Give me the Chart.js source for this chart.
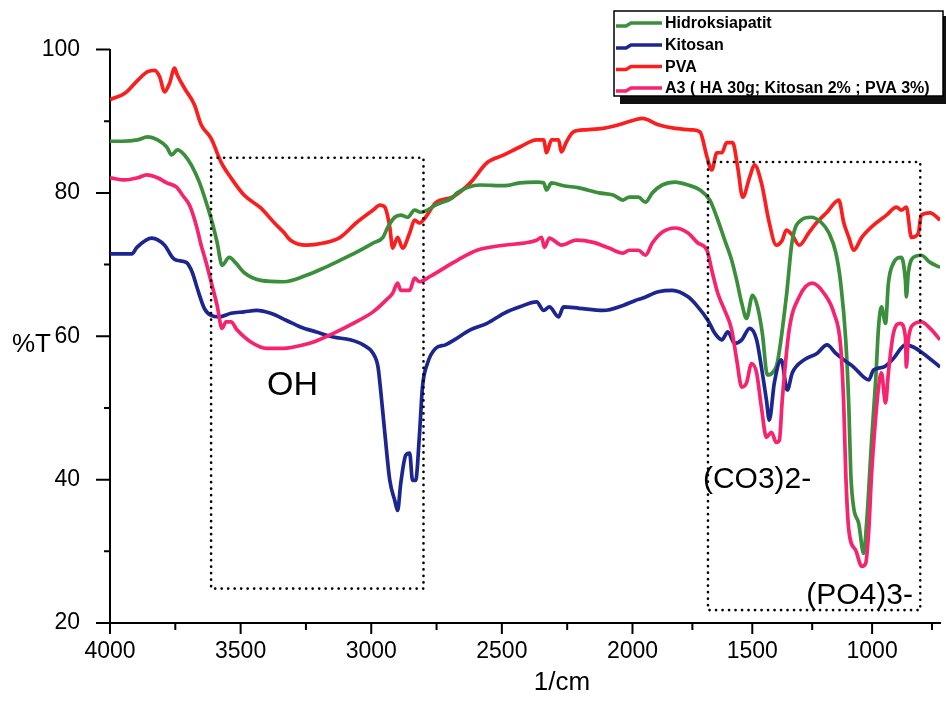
<!DOCTYPE html>
<html>
<head>
<meta charset="utf-8">
<script src="https://cdn.jsdelivr.net/npm/chart.js@4.4.1/dist/chart.umd.min.js"></script>
<style>
  html, body { margin: 0; padding: 0; background: #fff; }
</style>
</head>
<body>
<canvas id="grafica" width="947" height="717"></canvas>
<script>
// [wavenumber 1/cm, %T]
const hidroksiapatit = [[4000,87.2],[3954,87.2],[3894,87.4],[3856,87.8],[3818,87.4],[3783,86.4],[3764,85.3],[3742,86.0],[3715,85.3],[3689,83.9],[3658,81.5],[3632,78.7],[3609,75.9],[3590,73.1],[3571,69.9],[3544,71.0],[3518,70.2],[3487,68.9],[3423,67.8],[3335,67.6],[3248,68.5],[3183,69.5],[3119,70.6],[3058,71.7],[2993,73.0],[2955,73.8],[2937,75.2],[2910,76.6],[2887,76.9],[2861,76.6],[2834,77.6],[2811,77.3],[2785,77.6],[2754,78.3],[2690,79.3],[2671,80.0],[2583,81.1],[2492,81.0],[2431,81.4],[2367,81.5],[2340,81.4],[2329,80.4],[2310,81.4],[2264,81.0],[2204,80.7],[2128,80.0],[2074,79.7],[2036,79.0],[2013,79.4],[1975,79.4],[1946,78.7],[1917,80.0],[1876,81.1],[1822,81.5],[1768,81.1],[1718,80.4],[1677,79.0],[1648,76.6],[1615,73.4],[1586,70.6],[1565,67.8],[1544,64.6],[1524,62.5],[1499,65.7],[1478,64.1],[1458,60.4],[1437,54.6],[1416,54.9],[1395,56.4],[1358,65.5],[1333,73.4],[1296,76.2],[1255,76.6],[1213,75.9],[1180,74.4],[1151,71.6],[1131,67.4],[1110,59.5],[1097,50.1],[1089,40.9],[1077,36.1],[1056,33.9],[1035,29.7],[1023,33.9],[1002,45.5],[985,53.9],[973,61.3],[961,64.1],[944,61.8],[932,67.4],[911,70.2],[878,71.0],[861,67.8],[857,65.5],[849,68.8],[828,71.0],[795,71.3],[758,70.3],[716,69.6]];

const kitosan = [[4000,71.5],[3916,71.5],[3897,72.4],[3840,73.7],[3791,72.7],[3761,71.0],[3745,70.6],[3708,70.3],[3685,68.9],[3666,66.7],[3639,63.9],[3613,62.9],[3582,62.7],[3537,63.2],[3487,63.4],[3438,63.6],[3385,63.2],[3324,62.2],[3271,61.3],[3210,60.6],[3145,59.9],[3081,59.5],[3031,58.8],[2993,57.6],[2974,55.7],[2963,52.1],[2948,46.5],[2929,39.9],[2910,37.1],[2899,35.7],[2887,39.5],[2868,43.4],[2853,43.7],[2842,39.9],[2830,39.9],[2815,46.5],[2804,52.9],[2785,56.2],[2754,58.3],[2716,58.8],[2682,59.5],[2621,60.9],[2557,61.8],[2492,63.2],[2431,64.1],[2367,64.8],[2340,63.6],[2318,64.1],[2283,62.7],[2264,64.1],[2204,63.9],[2112,63.6],[2036,64.3],[1988,65.0],[1959,65.3],[1892,66.2],[1834,66.4],[1768,65.5],[1727,64.1],[1685,62.2],[1656,60.4],[1627,59.5],[1602,60.6],[1573,59.0],[1544,59.5],[1511,61.1],[1482,59.5],[1462,55.7],[1441,51.1],[1429,48.3],[1408,53.5],[1379,56.7],[1354,52.5],[1333,54.9],[1284,56.7],[1230,57.6],[1188,58.8],[1151,57.6],[1118,56.7],[1077,55.7],[1035,54.3],[1014,53.9],[994,55.3],[952,55.7],[911,56.9],[861,58.8],[828,58.5],[787,57.6],[716,55.7]];

const pva = [[4000,93.0],[3943,93.9],[3894,95.7],[3856,96.9],[3829,97.1],[3810,96.2],[3791,94.1],[3772,95.3],[3753,97.4],[3742,96.4],[3715,94.6],[3677,92.3],[3651,89.5],[3613,87.6],[3575,84.3],[3537,82.1],[3487,79.7],[3423,77.9],[3373,75.9],[3335,74.5],[3309,73.4],[3248,72.7],[3183,73.0],[3119,73.8],[3058,75.8],[2993,77.6],[2967,78.3],[2948,78.0],[2929,75.2],[2918,72.3],[2899,73.8],[2880,72.3],[2853,74.4],[2834,76.2],[2815,75.8],[2792,76.6],[2754,78.6],[2690,79.4],[2621,81.4],[2557,84.2],[2492,85.3],[2431,86.4],[2367,87.4],[2340,87.4],[2329,85.6],[2310,87.4],[2283,87.4],[2272,85.7],[2253,87.1],[2226,88.5],[2177,88.8],[2112,89.0],[2052,89.5],[1988,90.2],[1959,90.4],[1892,89.5],[1822,89.0],[1752,88.8],[1718,88.5],[1689,85.0],[1669,83.2],[1648,85.6],[1627,85.6],[1607,87.0],[1582,87.0],[1561,83.6],[1540,79.4],[1511,82.2],[1491,83.9],[1462,81.4],[1429,75.8],[1400,72.7],[1375,73.4],[1358,74.8],[1333,74.1],[1304,72.7],[1263,74.5],[1230,75.9],[1188,77.3],[1139,79.0],[1118,75.8],[1097,73.8],[1077,72.0],[1043,73.8],[994,75.5],[940,76.9],[898,78.0],[878,77.6],[857,78.0],[836,73.8],[807,74.4],[795,76.9],[758,77.2],[716,76.2]];

const a3 = [[4000,82.1],[3943,81.8],[3894,82.1],[3859,82.5],[3818,82.1],[3783,81.4],[3745,80.8],[3723,79.7],[3696,78.3],[3670,75.5],[3651,72.7],[3632,70.3],[3613,67.6],[3590,64.3],[3571,61.1],[3556,62.0],[3537,62.0],[3514,60.9],[3461,59.2],[3400,58.3],[3335,58.3],[3297,58.5],[3221,59.2],[3145,60.4],[3069,61.8],[2993,63.4],[2944,65.0],[2918,66.0],[2899,67.4],[2887,66.4],[2853,66.4],[2834,68.1],[2815,67.6],[2777,68.3],[2690,70.2],[2671,70.6],[2595,72.0],[2492,72.7],[2416,73.0],[2367,73.4],[2348,73.8],[2337,72.4],[2318,73.7],[2291,73.1],[2272,72.7],[2215,73.4],[2150,73.1],[2090,72.3],[2036,71.6],[2013,72.0],[1975,72.0],[1946,71.3],[1917,73.0],[1876,74.5],[1822,75.1],[1768,74.4],[1727,73.0],[1689,72.0],[1669,69.2],[1644,66.0],[1615,63.6],[1586,60.9],[1565,56.7],[1544,52.9],[1524,53.5],[1503,56.2],[1482,54.9],[1462,50.1],[1441,45.9],[1420,46.6],[1400,45.2],[1387,45.5],[1375,51.1],[1346,60.9],[1304,65.5],[1250,67.4],[1201,66.0],[1159,63.2],[1131,58.5],[1118,50.1],[1110,40.9],[1097,32.9],[1068,30.1],[1043,27.9],[1027,28.3],[1014,32.9],[1002,40.9],[985,48.7],[973,52.9],[961,54.9],[944,50.7],[932,54.9],[911,60.4],[882,61.8],[861,59.9],[857,55.7],[849,59.5],[820,61.8],[795,62.0],[758,61.1],[716,59.5]];

const xTickValues = [4000, 3750, 3500, 3250, 3000, 2750, 2500, 2250, 2000, 1750, 1500, 1250, 1000, 750];
const xTickLabels = ['4000', '', '3500', '', '3000', '', '2500', '', '2000', '', '1500', '', '1000', ''];
const yTickValues = [20, 30, 40, 50, 60, 70, 80, 90, 100];
const yTickLabels = ['20', '', '40', '', '60', '', '80', '', '100'];

const legendNames = ['Hidroksiapatit', 'Kitosan', 'PVA', 'A3 ( HA 30g; Kitosan 2% ; PVA 3%)'];
const colores = ['#3b8e3b', '#1c2690', '#fb1e1e', '#f7236e'];

// the original x axis is two scans glued at 2000 1/cm, each side has its own scale
const ESC_IZQ = 0.2633, ESC_DER = 0.2415;
function toAxis(wn) {
  return wn >= 2000 ? (4000 - wn) * ESC_IZQ : 2000 * ESC_IZQ + (2000 - wn) * ESC_DER;
}
const aPuntos = serie => serie.map(p => ({ x: toAxis(p[0]), y: p[1] }));

// dotted boxes and labels, in 1/cm and %T
const cajas = [
  { desde: 3613, hasta: 2800, arriba: 84.9, abajo: 24.8 },
  { desde: 1685, hasta: 799, arriba: 84.3, abajo: 21.8 }
];
const etiquetas = [
  { texto: 'OH', wn: 3301, t: 51.8, size: 34, align: 'center' },
  { texto: '(CO3)2-', wn: 1706, t: 38.8, size: 30, align: 'left' },
  { texto: '(PO4)3-', wn: 1275, t: 22.7, size: 30, align: 'left' }
];

const FUENTE = '"Liberation Sans", Arial, sans-serif';

const extras = {
  id: 'extras',
  afterDraw(chart) {
    const { ctx, scales: { x, y } } = chart;
    ctx.save();

    // tick marks, long for labelled ticks, short for the others
    ctx.strokeStyle = '#000';
    ctx.lineWidth = 2;
    ctx.beginPath();
    yTickValues.forEach((v, i) => {
      const py = y.getPixelForValue(v);
      const largo = yTickLabels[i] ? 14 : 6;
      ctx.moveTo(x.left - largo, py);
      ctx.lineTo(x.left, py);
    });
    xTickValues.forEach((v, i) => {
      const px = x.getPixelForValue(toAxis(v));
      const largo = xTickLabels[i] ? 11 : 7;
      ctx.moveTo(px, y.bottom);
      ctx.lineTo(px, y.bottom + largo);
    });
    ctx.stroke();

    // dotted boxes
    ctx.setLineDash([0.1, 6.4]);
    ctx.lineCap = 'round';
    ctx.lineWidth = 2.6;
    cajas.forEach(c => {
      const x1 = x.getPixelForValue(toAxis(c.desde));
      const x2 = x.getPixelForValue(toAxis(c.hasta));
      const y1 = y.getPixelForValue(c.arriba);
      const y2 = y.getPixelForValue(c.abajo);
      ctx.strokeRect(x1, y1, x2 - x1, y2 - y1);
    });
    ctx.setLineDash([]);
    ctx.lineCap = 'butt';

    // labels inside the plot
    ctx.fillStyle = '#000';
    ctx.textBaseline = 'alphabetic';
    etiquetas.forEach(e => {
      ctx.font = e.size + 'px ' + FUENTE;
      ctx.textAlign = e.align;
      ctx.fillText(e.texto, x.getPixelForValue(toAxis(e.wn)), y.getPixelForValue(e.t));
    });

    // axis titles
    ctx.font = '26px ' + FUENTE;
    ctx.textAlign = 'left';
    ctx.fillText('%T', 12, 352);
    ctx.textAlign = 'center';
    ctx.fillText('1/cm', 562, 690);

    // legend box with its drop shadow
    ctx.fillStyle = '#111';
    ctx.fillRect(620, 16, 326, 88);
    ctx.fillStyle = '#fff';
    ctx.fillRect(614, 11, 329, 85);
    ctx.strokeStyle = '#000';
    ctx.lineWidth = 1.5;
    ctx.strokeRect(614, 11, 329, 85);

    const filas = [23, 45, 66.5, 88];
    ctx.font = 'bold 16px ' + FUENTE;
    ctx.textAlign = 'left';
    ctx.textBaseline = 'middle';
    legendNames.forEach((nombre, i) => {
      const fy = filas[i];
      ctx.strokeStyle = colores[i];
      ctx.lineWidth = 3.4;
      ctx.beginPath();
      ctx.moveTo(616, fy + 3);
      ctx.lineTo(626, fy + 3);
      ctx.lineTo(631, fy);
      ctx.lineTo(662, fy);
      ctx.stroke();
      ctx.fillStyle = '#000';
      ctx.fillText(nombre, 665, fy + 1);
    });

    ctx.restore();
  }
};

const series = [a3, kitosan, hidroksiapatit, pva];
const colorSerie = ['#f7236e', '#1c2690', '#3b8e3b', '#fb1e1e'];

const datasets = series.map((s, i) => ({
  data: aPuntos(s),
  borderColor: colorSerie[i],
  borderWidth: 3.7,
  pointRadius: 0,
  fill: false,
  cubicInterpolationMode: 'monotone'
}));

const grafica = new Chart(document.getElementById('grafica'), {
  type: 'line',
  data: { datasets },
  options: {
    responsive: false,
    animation: false,
    devicePixelRatio: 1,
    layout: { padding: { top: 49.5, left: 0, right: 0, bottom: 0 } },
    plugins: { legend: { display: false }, tooltip: { enabled: false } },
    scales: {
      x: {
        type: 'linear',
        min: 0,
        max: toAxis(716),
        afterBuildTicks: s => { s.ticks = xTickValues.map(v => ({ value: toAxis(v) })); },
        afterFit: s => { s.height = 94; },
        grid: { display: false, drawTicks: false },
        border: { display: true, color: '#000', width: 2 },
        ticks: {
          autoSkip: false,
          maxRotation: 0,
          padding: 15,
          color: '#000',
          font: { family: FUENTE, size: 23 },
          callback: (v, i) => xTickLabels[i]
        }
      },
      y: {
        min: 20,
        max: 100,
        afterBuildTicks: s => { s.ticks = yTickValues.map(v => ({ value: v })); },
        afterFit: s => { s.width = 110; },
        grid: { display: false, drawTicks: false },
        border: { display: true, color: '#000', width: 2 },
        ticks: {
          padding: 30,
          color: '#000',
          font: { family: FUENTE, size: 23 },
          callback: (v, i) => yTickLabels[i]
        }
      }
    }
  },
  plugins: [extras]
});
</script>
</body>
</html>
